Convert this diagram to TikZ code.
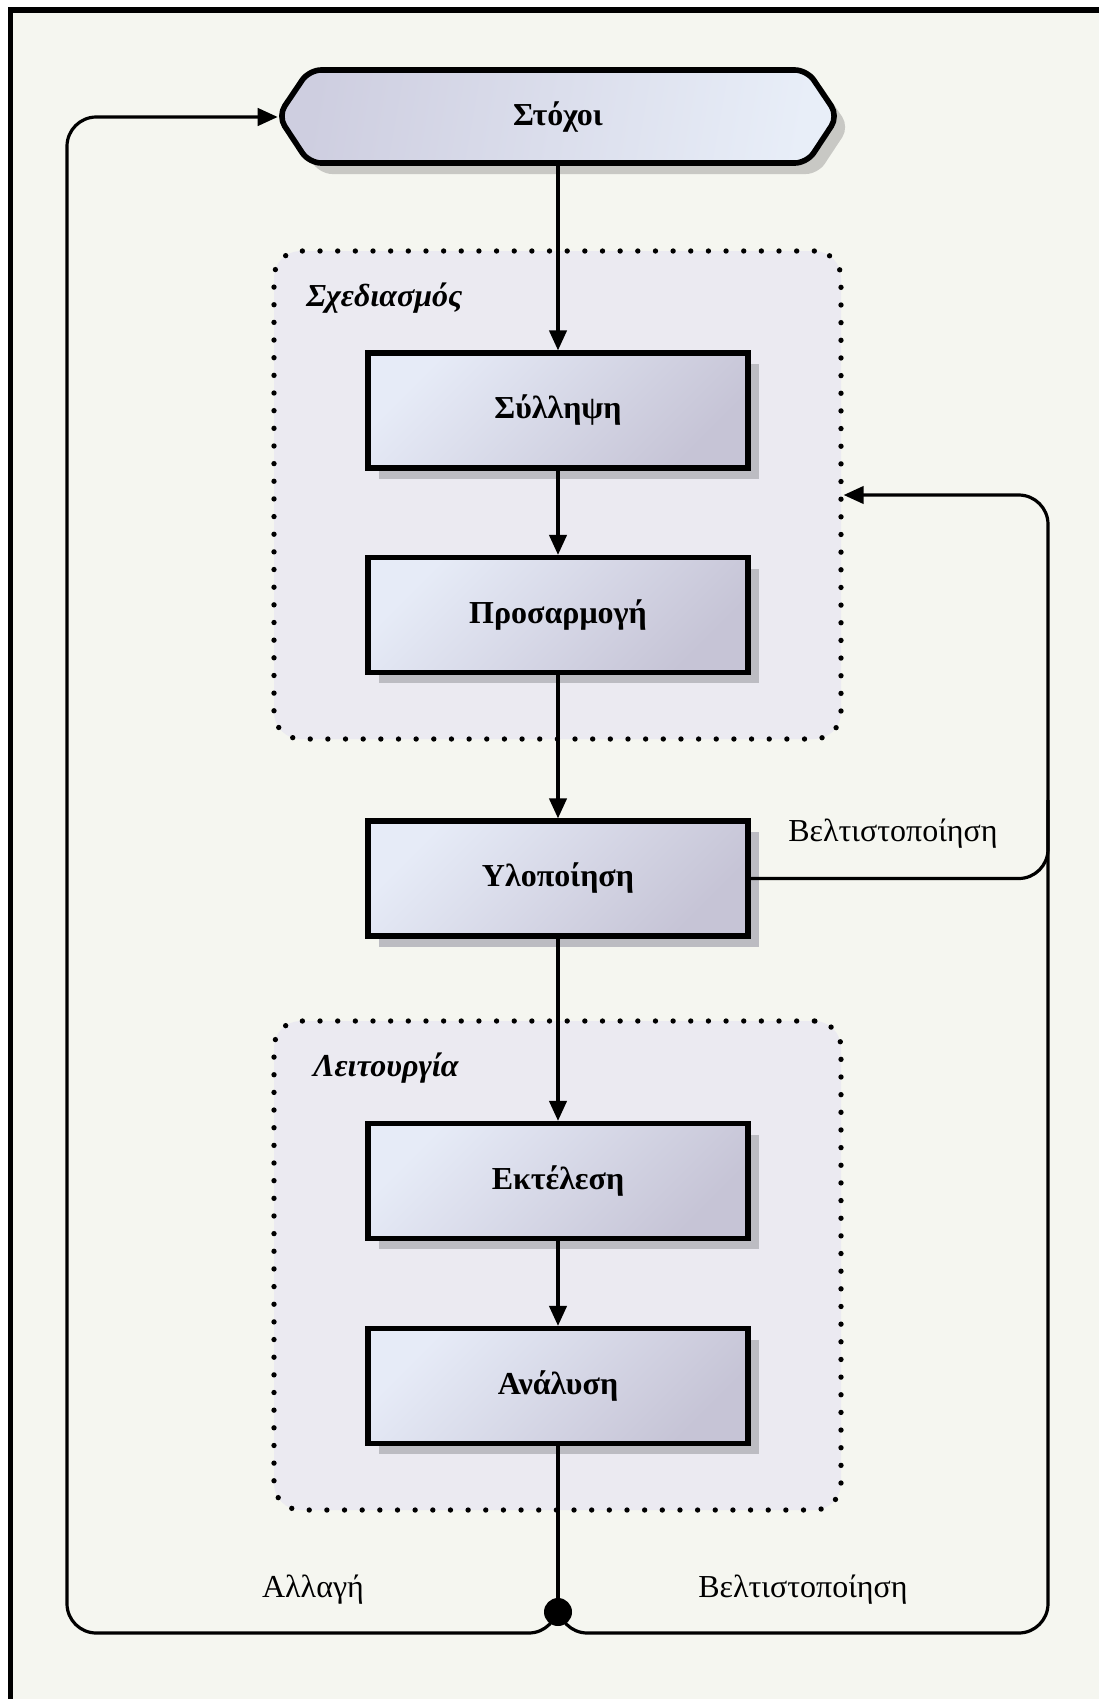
\documentclass[tikz,border=0pt]{standalone}
\usepackage{fontspec}
\setmainfont{Liberation Serif}
\usetikzlibrary{arrows.meta,shadows,fit}

\definecolor{paper}{RGB}{245,246,240}
\definecolor{groupfill}{RGB}{235,234,241}
\definecolor{boxlight}{RGB}{230,235,247}
\definecolor{boxdark}{RGB}{198,196,214}
\definecolor{hexdark}{RGB}{206,206,224}
\definecolor{hexlight}{RGB}{232,238,248}
\definecolor{shadowgray}{RGB}{188,188,194}
\definecolor{hexshadow}{RGB}{200,200,196}

\tikzset{
  stepbox/.style={draw, line width=4.2pt, inner sep=0pt,
    minimum width=285pt, minimum height=86pt,
    top color=boxlight, bottom color=boxdark, shading angle=45,
    drop shadow={shadow xshift=8.25pt, shadow yshift=-8.25pt,
      fill=shadowgray, opacity=1},
    font=\bfseries\fontsize{24}{28}\selectfont},
  groupbox/.style={draw, line width=4pt, line cap=round,
    dash pattern=on 0pt off 13.24pt, fill=groupfill,
    rounded corners=20pt, inner sep=0pt},
  grouplabel/.style={anchor=west, inner sep=0pt,
    font=\bfseries\itshape\fontsize{24}{28}\selectfont},
  flowlabel/.style={inner sep=0pt, font=\fontsize{24}{28}\selectfont},
  conn/.style={draw, line width=2.4pt, rounded corners=22pt},
  arr/.style={conn, -{Triangle[length=15pt,width=13pt]}},
}

\begin{document}
\begin{tikzpicture}[x=0.75pt, y=-0.75pt]
  \useasboundingbox (0,0) rectangle (1099,1699);

  % page frame
  \fill[white] (0,0) rectangle (1099,1699);
  \draw[line width=3.9pt, fill=paper] (10.5,10) rectangle (1130,1730);

  % phase groups
  \node[groupbox, fit={(274,251) (841,739)}] (plan) {};
  \node[grouplabel] (planlabel) at (306,298) {Σχεδιασμός};
  \node[groupbox, fit={(274,1021) (841,1510)}] (oper) {};
  \node[grouplabel] (operlabel) at (313,1068) {Λειτουργία};

  % goals hexagon
  \fill[hexshadow, rounded corners=9pt]
    ([xshift=11pt*0.75,yshift=-11pt*0.75]278,116)
    -- ++(31,-46) -- ++(498,0) -- ++(31,46) -- ++(-31,47) -- ++(-498,0) -- cycle;
  \draw[line width=4.2pt, rounded corners=9pt, line join=round,
        left color=hexdark, right color=hexlight, shading angle=80]
    (278,116) -- (309,70) -- (807,70) -- (838,116) -- (807,163) -- (309,163) -- cycle;
  \node[inner sep=0pt, minimum width=420pt, minimum height=70pt,
        font=\bfseries\fontsize{24}{28}\selectfont] (goals) at (558,117) {Στόχοι};

  % process steps
  \node[stepbox] (concept) at (558,410.5) {Σύλληψη};
  \node[stepbox] (adapt) at (558,615) {Προσαρμογή};
  \node[stepbox] (impl) at (558,878.5) {Υλοποίηση};
  \node[stepbox] (exec) at (558,1181) {Εκτέλεση};
  \node[stepbox] (anal) at (558,1386) {Ανάλυση};

  % junction and loop corners
  \coordinate (junc) at (558,1612);
  \coordinate (bl) at (67,1633);
  \coordinate (br) at (1048,1633);
  \coordinate (riser) at (1048,800);

  % main flow
  \draw[arr] (goals.south) -- (concept.north);
  \draw[arr] (concept.south) -- (adapt.north);
  \draw[arr] (adapt.south) -- (impl.north);
  \draw[arr] (impl.south) -- (exec.north);
  \draw[arr] (exec.south) -- (anal.north);
  \draw[conn] (anal.south) -- (junc);

  % change loop back to the goals
  \draw[arr] (junc) -- (junc |- bl) -- (bl) -- (bl |- goals.west) -- (goals.west);
  % optimisation loops back to planning
  \draw[conn] (junc) -- (junc |- br) -- (br) -- (riser);
  \draw[arr] (impl.east) -- (impl.east -| br) -- (br |- plan.east) -- (plan.east);

  \node[circle, fill=black, inner sep=0pt, minimum size=21pt] (dot) at (junc) {};

  % flow labels
  \node[flowlabel] (optupper) at (893,834) {Βελτιστοποίηση};
  \node[flowlabel] (optlower) at (803,1590) {Βελτιστοποίηση};
  \node[flowlabel] (change) at (313,1590) {Αλλαγή};
\end{tikzpicture}
\end{document}
